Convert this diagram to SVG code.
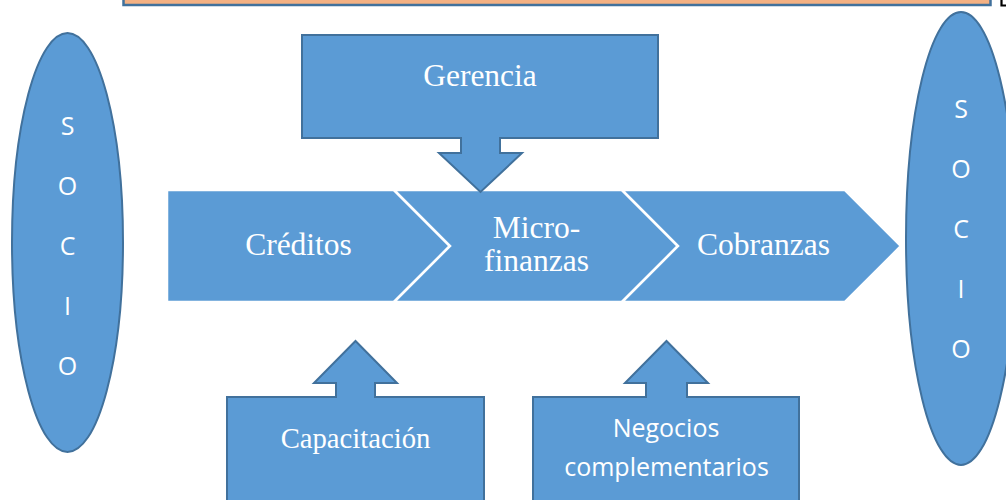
<svg xmlns="http://www.w3.org/2000/svg" width="1006" height="500" viewBox="0 0 1006 500">
<style>
.shape{fill:#5B9BD5;stroke:#41719C;stroke-width:2}
.chev{fill:#5B9BD5;stroke:#FFFFFF;stroke-width:2.5;stroke-linejoin:miter}
.serif{font-family:"Liberation Serif","Times New Roman",serif;fill:#FFFFFF;text-anchor:middle}
.sans{font-family:"Open Sans","Noto Sans",sans-serif;fill:#FFFFFF;text-anchor:middle}
</style>
<rect x="0" y="0" width="1006" height="500" fill="#FFFFFF"/>
<g id="top-bar">
  <rect x="123.5" y="-10" width="867" height="15" fill="#F4B183" stroke="#41719C" stroke-width="2.5"/>
</g>
<g id="corner-mark">
  <polyline points="1001.5,0 1001.5,5.5 1006,5.5" fill="none" stroke="#000000" stroke-width="2.2"/>
</g>
<g id="socio-left">
  <ellipse cx="67.5" cy="242.5" rx="55.5" ry="209.5" class="shape"/>
  <g class="sans" font-size="25">
    <text x="67.5" y="135">S</text>
    <text x="67.5" y="195">O</text>
    <text x="67.5" y="255">C</text>
    <text x="67.5" y="315">I</text>
    <text x="67.5" y="375">O</text>
  </g>
</g>
<g id="socio-right">
  <ellipse cx="961" cy="238.5" rx="55" ry="226.5" class="shape"/>
  <g class="sans" font-size="25">
    <text x="961" y="118">S</text>
    <text x="961" y="178">O</text>
    <text x="961" y="238">C</text>
    <text x="961" y="298">I</text>
    <text x="961" y="358">O</text>
  </g>
</g>
<g id="creditos">
  <path class="chev" d="M167,190 H394 L450,246 L394,302 H167 Z"/>
  <text class="serif" x="298.5" y="255" font-size="31.5">Créditos</text>
</g>
<g id="microfinanzas">
  <path class="chev" d="M394,190 H622 L678,246 L622,302 H394 L450,246 Z"/>
  <text class="serif" x="536.5" y="238" font-size="31.5">Micro-</text>
  <text class="serif" x="536.5" y="271" font-size="31.5">finanzas</text>
</g>
<g id="cobranzas">
  <path class="chev" d="M622,190 H845 L901,246 L845,302 H622 L678,246 Z"/>
  <text class="serif" x="763.5" y="255" font-size="31.5">Cobranzas</text>
</g>
<g id="gerencia">
  <path class="shape" d="M302,35 H658 V138 H500 V153 H522 L480.5,192 L439,153 H461 V138 H302 Z"/>
  <text class="serif" x="480" y="86" font-size="31.5">Gerencia</text>
</g>
<g id="capacitacion">
  <path class="shape" d="M227,397 H336 V383 H314 L355.5,341 L397,383 H375 V397 H484 V515 H227 Z"/>
  <text class="serif" x="355.5" y="448" font-size="28.7">Capacitación</text>
</g>
<g id="negocios">
  <path class="shape" d="M533,397 H646 V383 H625 L666.5,341 L708,383 H687 V397 H799 V515 H533 Z"/>
  <text class="sans" x="666" y="437" font-size="25">Negocios</text>
  <text class="sans" x="666.5" y="476" font-size="25">complementarios</text>
</g>
<g id="connectors"></g>
</svg>
